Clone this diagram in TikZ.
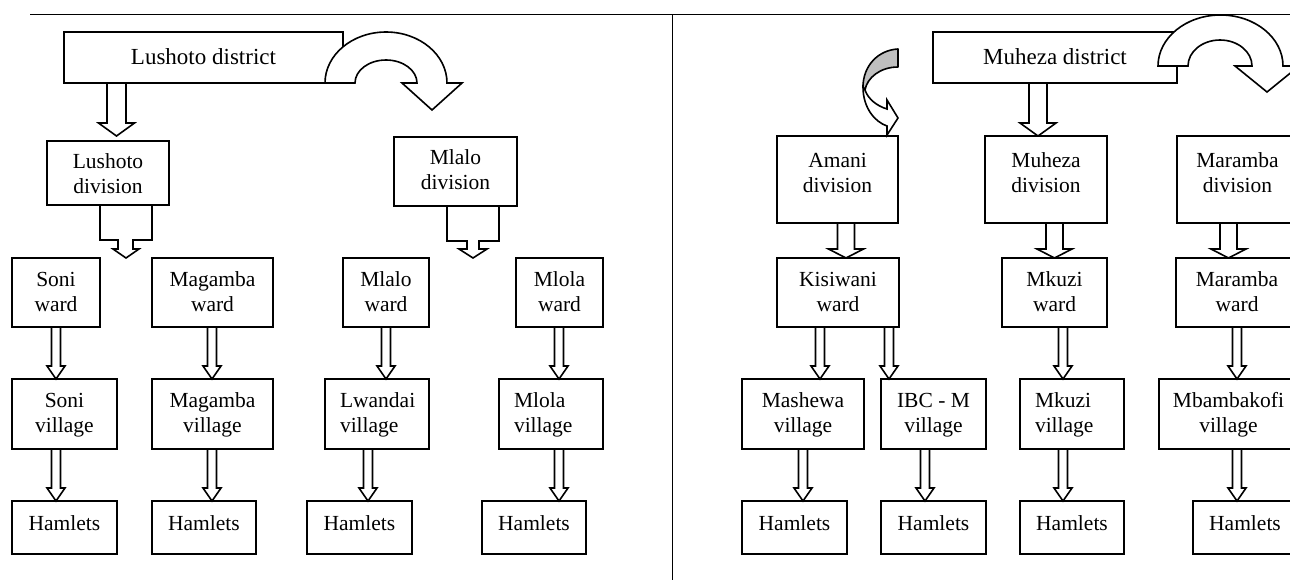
\documentclass[tikz,border=0pt]{standalone}
\usepackage{fontspec}
\setmainfont{Liberation Serif}
\usetikzlibrary{calc}
\tikzset{
  box/.style={draw, line width=1.6pt, fill=white, inner sep=0pt, outer sep=0pt},
  txt/.style={inner sep=0pt, outer sep=0pt, align=center, font=\fontsize{21.5}{25}\selectfont,
    execute at begin node=\strut, execute at end node=\strut},
  bigtxt/.style={txt, font=\fontsize{23}{25}\selectfont},
  arrowshape/.style={draw, line width=1.6pt, fill=white, line join=miter},
  rule/.style={draw, line width=1.6pt},
}
\newcommand\mkbox[8][txt]{%
  \node[box, minimum width={(#5)-(#3)}, minimum height={(#6)-(#4)}] (#2) at ({((#3)+(#5))/2},{((#4)+(#6))/2}) {};
  \node[#1] (#2t) at ($(#2.center)+(0,#7+2)$) {#8};}
\newcommand\mkboxl[7]{%
  \node[box, minimum width={(#4)-(#2)}, minimum height={(#5)-(#3)}] (#1) at ({((#2)+(#4))/2},{((#3)+(#5))/2}) {};
  \node[txt, align=left, anchor=west] (#1t) at ($(#1.west)+(15,#6+2)$) {#7};}
% #1 x centre, #2 from, #3 to, #4 shaft half, #5 head half, #6 head length, #7 gap
\newcommand\blkarrow[7]{%
  \draw[arrowshape] let \p1=(#2.south), \p2=(#3.north) in
   (#1pt-#4pt,\y1) -- (#1pt-#4pt,\y2+#7pt+#6pt) -- (#1pt-#5pt,\y2+#7pt+#6pt) -- (#1pt,\y2+#7pt)
   -- (#1pt+#5pt,\y2+#7pt+#6pt) -- (#1pt+#4pt,\y2+#7pt+#6pt) -- (#1pt+#4pt,\y1) -- cycle;}
\newcommand\thinarrow[3]{\blkarrow{#1}{#2}{#3}{4.5}{9}{13}{0}}
\begin{document}
\begin{tikzpicture}[x=1pt,y=-1pt]
\useasboundingbox (0,0) rectangle (1290,579);
\clip (0,0) rectangle (1290,579);
\fill[white] (0,0) rectangle (1290,579);
% frame lines
\coordinate (tl) at (30,14.5);
\coordinate (tr) at (1300,14.5);
\coordinate (vt) at (672.3,14.5);
\coordinate (vb) at (672.3,590);
\draw[rule] (tl) -- (tr);
\draw[rule] (vt) -- (vb);

% ---------- Lushoto side ----------
\mkbox[bigtxt]{ld}{64}{32}{343}{83}{0}{Lushoto district}
\mkbox{ldiv}{47}{141}{169}{205}{2.5}{Lushoto\\division}
\mkbox{mldiv}{394}{137}{517}{206}{0}{Mlalo\\division}
\mkbox{sonw}{12}{258}{100}{327}{1}{Soni\\ward}
\mkbox{magw}{152}{258}{273}{327}{1}{Magamba\\ward}
\mkbox{mlaw}{343}{258}{429}{327}{1}{Mlalo\\ward}
\mkbox{mlow}{516}{258}{603}{327}{1}{Mlola\\ward}
\mkbox{sonv}{12}{379}{117}{449}{0.5}{Soni\\village}
\mkbox{magv}{152}{379}{273}{449}{0.5}{Magamba\\village}
\mkboxl{lwav}{325}{379}{429}{449}{0.5}{Lwandai\\village}
\mkboxl{mlov}{499}{379}{603}{449}{0.5}{Mlola\\village}
\mkbox{sonh}{12}{501}{117}{554}{-4}{Hamlets}
\mkbox{magh}{152}{501}{256}{554}{-4}{Hamlets}
\mkbox{lwah}{307}{501}{412}{554}{-4}{Hamlets}
\mkbox{mloh}{482}{501}{586}{554}{-4}{Hamlets}

% ---------- Muheza side ----------
\mkbox[bigtxt]{md}{933}{32}{1177}{83}{0}{Muheza district}
\mkbox{amdiv}{777}{136}{898}{223}{-5}{Amani\\division}
\mkbox{mudiv}{985}{136}{1107}{223}{-5}{Muheza\\division}
\mkbox{madiv}{1177}{136}{1298}{223}{-5}{Maramba\\division}
\mkbox{kisw}{777}{258}{899}{327}{1}{Kisiwani\\ward}
\mkbox{mkuw}{1002}{258}{1107}{327}{1}{Mkuzi\\ward}
\mkbox{maraw}{1176}{258}{1298}{327}{1}{Maramba\\ward}
\mkbox{mashv}{742}{379}{864}{449}{0.5}{Mashewa\\village}
\mkbox{ibcv}{881}{379}{986}{449}{0.5}{IBC - M\\village}
\mkboxl{mkuv}{1020}{379}{1124}{449}{0.5}{Mkuzi\\village}
\mkbox{mbav}{1159}{379}{1298}{449}{0.5}{Mbambakofi\\village}
\mkbox{mashh}{742}{501}{847}{554}{-4}{Hamlets}
\mkbox{ibch}{881}{501}{986}{554}{-4}{Hamlets}
\mkbox{mkuh}{1020}{501}{1124}{554}{-4}{Hamlets}
\mkbox{mbah}{1193}{501}{1297}{554}{-4}{Hamlets}

% ---------- thick block arrows ----------
\blkarrow{116.5}{ld}{ldiv}{9.5}{18}{13}{5}
\blkarrow{1038}{md}{mudiv}{9}{18}{13}{0}
\blkarrow{846}{amdiv}{kisw}{8.5}{17.5}{9}{0}
\blkarrow{1054.5}{mudiv}{mkuw}{8.5}{17.5}{9}{0}
\blkarrow{1228.5}{madiv}{maraw}{8.5}{17.5}{9}{0}

% ---------- odd arrows from Lushoto/Mlalo divisions ----------
\coordinate (ldtip) at (126,258);
\coordinate (mltip) at (473,258);
\draw[arrowshape] let \p1=(ldiv.south), \p2=(ldtip) in
  (100pt,\y1) -- (100pt,\y2+18pt) -- (118pt,\y2+18pt) -- (118pt,\y2+9pt) -- (113pt,\y2+9pt)
  -- (126pt,\y2) -- (139pt,\y2+9pt) -- (133pt,\y2+9pt) -- (133pt,\y2+18pt) -- (152pt,\y2+18pt)
  -- (152pt,\y1) -- cycle;
\draw[arrowshape] let \p1=(mldiv.south), \p2=(mltip) in
  (447pt,\y1) -- (447pt,\y2+17pt) -- (467pt,\y2+17pt) -- (467pt,\y2+9pt) -- (459pt,\y2+9pt)
  -- (473pt,\y2) -- (487pt,\y2+9pt) -- (479pt,\y2+9pt) -- (479pt,\y2+17pt) -- (499pt,\y2+17pt)
  -- (499pt,\y1) -- cycle;

% ---------- thin arrows ----------
\thinarrow{56}{sonw}{sonv}
\thinarrow{56}{sonv}{sonh}
\thinarrow{212}{magw}{magv}
\thinarrow{212}{magv}{magh}
\thinarrow{386}{mlaw}{lwav}
\thinarrow{368}{lwav}{lwah}
\thinarrow{559}{mlow}{mlov}
\thinarrow{559}{mlov}{mloh}
\thinarrow{820}{kisw}{mashv}
\thinarrow{889}{kisw}{ibcv}
\thinarrow{803}{mashv}{mashh}
\thinarrow{925}{ibcv}{ibch}
\thinarrow{1063}{mkuw}{mkuv}
\thinarrow{1063}{mkuv}{mkuh}
\thinarrow{1237}{maraw}{mbav}
\thinarrow{1237}{mbav}{mbah}

% ---------- curved (U-turn) arrows ----------
\coordinate (lc) at (386,83);
\draw[arrowshape] (325,83) arc[start angle=180, end angle=360, x radius=61, y radius=51]
  -- (462,83) -- (432,110) -- (402,83) -- (417,83)
  arc[start angle=0, end angle=-180, x radius=31, y radius=23] -- cycle;
\coordinate (mc) at (1220.5,66);
\draw[arrowshape] (1158,66) arc[start angle=180, end angle=360, x radius=62.5, y radius=51]
  -- (1299,66) -- (1267,92) -- (1235,66) -- (1252,66)
  arc[start angle=0, end angle=-180, x radius=32, y radius=26] -- cycle;

% ---------- grey curved arrow into Amani division ----------
\draw[line width=1.6pt, fill=black!25, line join=round]
  (898,49) .. controls (878,50) and (863,66) .. (863,87) -- (865,90)
  .. controls (867,78) and (880,67) .. (898,67) -- cycle;
\draw[arrowshape]
  (863,87) .. controls (863,108) and (875,122) .. (887,126) -- (887,135) -- (898,118)
  -- (887,100) -- (887,109) .. controls (877,106) and (868,99) .. (865,90) -- cycle;
\end{tikzpicture}
\end{document}
